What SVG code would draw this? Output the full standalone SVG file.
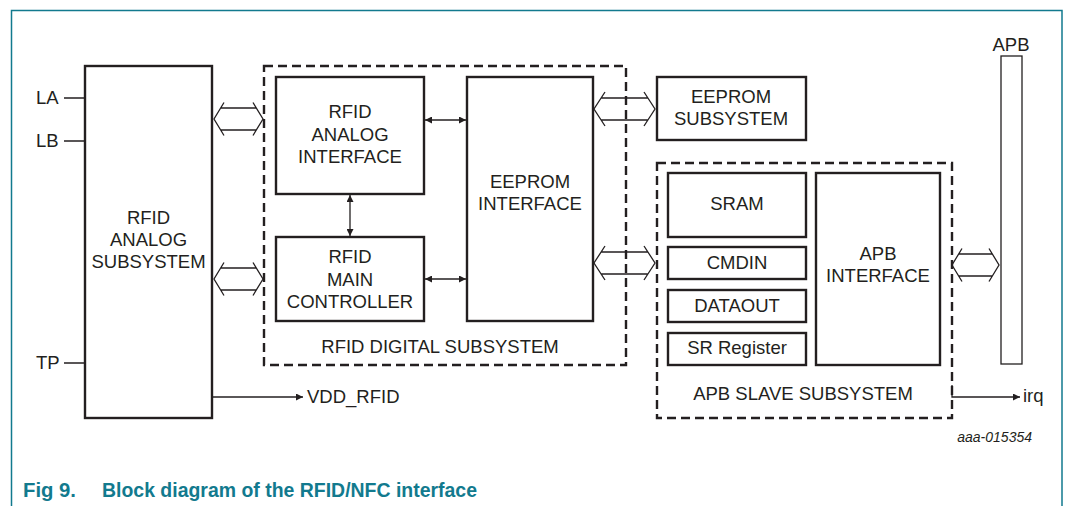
<svg xmlns="http://www.w3.org/2000/svg" width="1066" height="506" viewBox="0 0 1066 506">
<defs>
<style>
.box{fill:#fff;stroke:#231f20;stroke-width:2.4}
.dash{fill:none;stroke:#231f20;stroke-width:2.4;stroke-dasharray:9 5}
.t{font-family:"Liberation Sans",Arial,sans-serif;font-size:18.5px;fill:#231f20;text-anchor:middle}
.tl{font-family:"Liberation Sans",Arial,sans-serif;font-size:18.5px;fill:#231f20}
.ln{fill:none;stroke:#231f20;stroke-width:1.3}
.bus{fill:none;stroke:#231f20;stroke-width:1.3}
.frame{fill:none;stroke:#127a8e;stroke-width:1.5}
.title{font-family:"Liberation Sans",Arial,sans-serif;font-size:21px;font-weight:bold;fill:#127a8e}
</style>
<marker id="ah" viewBox="0 0 10 10" refX="10" refY="5" markerWidth="8" markerHeight="7" markerUnits="userSpaceOnUse" orient="auto-start-reverse">
<path d="M0,0 L10,5 L0,10 z" fill="#231f20"/>
</marker>
</defs>
<rect width="1066" height="506" fill="#fff"/>
<path class="frame" d="M11.5,506 V10.5 H1062 V506"/>

<g id="rfid-analog-subsystem">
<rect class="box" x="85" y="66" width="127" height="352"/>
<text class="t" x="148.5" y="224">RFID</text>
<text class="t" x="148.5" y="246">ANALOG</text>
<text class="t" x="148.5" y="268">SUBSYSTEM</text>
</g>

<g id="pins">
<text class="tl" x="36" y="104">LA</text>
<text class="tl" x="36" y="147">LB</text>
<text class="tl" x="36" y="369">TP</text>
</g>

<g id="rfid-digital-subsystem">
<rect class="dash" x="264" y="66" width="362" height="299"/>
<text class="t" x="440" y="353">RFID DIGITAL SUBSYSTEM</text>
</g>

<g id="rfid-analog-interface">
<rect class="box" x="276" y="77" width="148" height="117"/>
<text class="t" x="350" y="118">RFID</text>
<text class="t" x="350" y="141">ANALOG</text>
<text class="t" x="350" y="163">INTERFACE</text>
</g>

<g id="rfid-main-controller">
<rect class="box" x="276" y="237" width="148" height="84"/>
<text class="t" x="350" y="263">RFID</text>
<text class="t" x="350" y="286">MAIN</text>
<text class="t" x="350" y="308">CONTROLLER</text>
</g>

<g id="eeprom-interface">
<rect class="box" x="467" y="77" width="126" height="244"/>
<text class="t" x="530" y="188">EEPROM</text>
<text class="t" x="530" y="210">INTERFACE</text>
</g>

<g id="eeprom-subsystem">
<rect class="box" x="657" y="77" width="149" height="63"/>
<text class="t" x="731" y="103">EEPROM</text>
<text class="t" x="731" y="125">SUBSYSTEM</text>
</g>

<g id="apb-slave-subsystem">
<rect class="dash" x="657" y="163" width="295" height="255"/>
<text class="t" x="803" y="400">APB SLAVE SUBSYSTEM</text>
</g>

<g id="sram">
<rect class="box" x="668" y="173" width="138" height="64"/>
<text class="t" x="737" y="210">SRAM</text>
</g>
<g id="cmdin">
<rect class="box" x="668" y="247" width="138" height="32"/>
<text class="t" x="737" y="269">CMDIN</text>
</g>
<g id="dataout">
<rect class="box" x="668" y="290" width="138" height="32"/>
<text class="t" x="737" y="312">DATAOUT</text>
</g>
<g id="sr-register">
<rect class="box" x="668" y="333" width="138" height="32"/>
<text class="t" x="737" y="354">SR Register</text>
</g>

<g id="apb-interface">
<rect class="box" x="816" y="173" width="124" height="192"/>
<text class="t" x="878" y="260">APB</text>
<text class="t" x="878" y="282">INTERFACE</text>
</g>

<g id="apb-bus">
<rect x="1001" y="56" width="21" height="308" fill="#fff" stroke="#231f20" stroke-width="1.3"/>
<text class="t" x="1011" y="51">APB</text>
</g>

<g id="connectors">
<path class="ln" d="M64,98 H85 M64,141 H85 M64,363 H85"/>
<path class="ln" d="M212,397 H303" marker-end="url(#ah)"/>
<path class="ln" d="M425,120 H466" marker-start="url(#ah)" marker-end="url(#ah)"/>
<path class="ln" d="M425,279 H466" marker-start="url(#ah)" marker-end="url(#ah)"/>
<path class="ln" d="M350,195 V236" marker-start="url(#ah)" marker-end="url(#ah)"/>
<path class="ln" d="M952,385 V397 H1020" marker-end="url(#ah)"/>
<path class="bus" d="M224,102.5 L214,119 L224,135.5 M253,102.5 L263,119 L253,135.5 M220.7,108 H256.3 M220.7,130 H256.3"/>
<path class="bus" d="M224,262.5 L214,279 L224,295.5 M253,262.5 L263,279 L253,295.5 M220.7,268 H256.3 M220.7,290 H256.3"/>
<path class="bus" d="M605,92 L594,109 L605,126 M644,92 L655,109 L644,126 M601.5,98 H647.5 M601.5,120 H647.5"/>
<path class="bus" d="M605,246 L594,263 L605,280 M644,246 L655,263 L644,280 M601.5,252 H647.5 M601.5,274 H647.5"/>
<path class="bus" d="M962,248.5 L952,265 L962,281.5 M989,248.5 L999,265 L989,281.5 M958.7,254 H992.3 M958.7,276 H992.3"/>
</g>

<text class="tl" x="307" y="403">VDD_RFID</text>
<text class="tl" x="1023" y="402">irq</text>
<text x="1032" y="442" font-family="'Liberation Sans',Arial,sans-serif" font-size="14px" font-style="italic" fill="#231f20" text-anchor="end">aaa-015354</text>

<text class="title" x="23" y="497" textLength="53" lengthAdjust="spacingAndGlyphs">Fig 9.</text>
<text class="title" x="102" y="497" textLength="375" lengthAdjust="spacingAndGlyphs">Block diagram of the RFID/NFC interface</text>
</svg>
